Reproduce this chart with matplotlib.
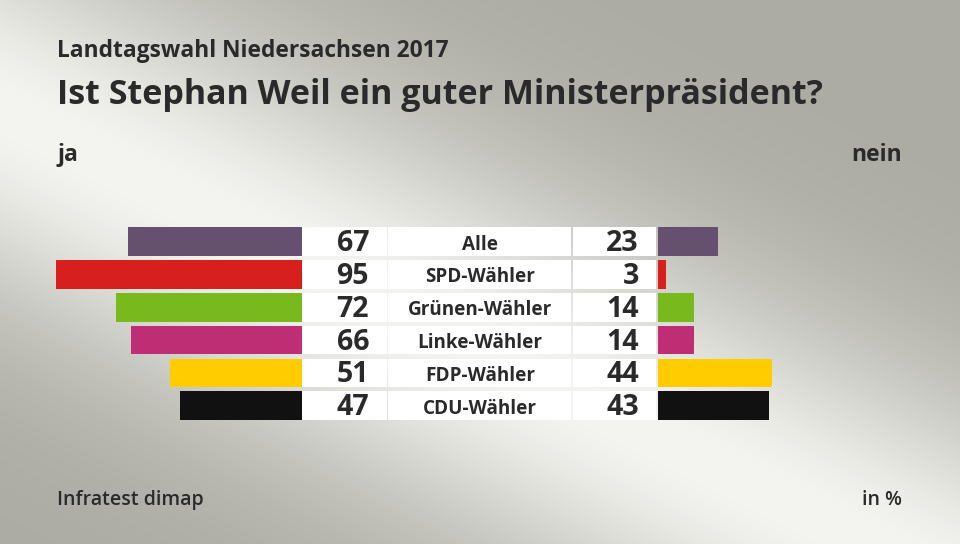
#!/usr/bin/env python3
# Umfrage-Grafik: Ist Stephan Weil ein guter Ministerpraesident? (Landtagswahl Niedersachsen 2017)

import numpy as np
from matplotlib import pyplot as plt

# --- data ---
groups = ["Alle", "SPD-Wähler", "Grünen-Wähler", "Linke-Wähler", "FDP-Wähler", "CDU-Wähler"]
ja = [67, 95, 72, 66, 51, 47]
nein = [23, 3, 14, 14, 44, 43]
groupColors = ["#66506f", "#d7201e", "#78b91e", "#be2e75", "#ffcc00", "#111111"]

# --- layout (pixel space, 960x544) ---
W, H = 960, 544
pxPerPct = 2.59
jaEdge = 302        # ja bars grow leftwards from here
neinEdge = 658      # nein bars grow rightwards from here
rowTop = 241.7
rowStep = 32.8
barH = 28.6
textColor = "#2a2a2a"
fontFam = ["Open Sans", "DejaVu Sans"]

fig = plt.figure(figsize=(W / 100, H / 100), dpi=100)
ax = fig.add_axes([0, 0, 1, 1])
ax.set_xlim(0, W)
ax.set_ylim(H, 0)
ax.axis("off")

# background: light diagonal band on grey
xx, yy = np.meshgrid(np.arange(W), np.arange(H))
d = (yy - (110 + 0.5 * xx)) / np.sqrt(1 + 0.25)
t = np.exp(-(d / 175.0) ** 2)[..., None]
dark = np.array([172, 172, 164]) / 255
light = np.array([244, 244, 240]) / 255
bg = dark + (light - dark) * t
ax.imshow(bg, extent=[0, W, H, 0], aspect="auto", zorder=0)

rows = [rowTop + i * rowStep for i in range(len(groups))]

# white boxes behind numbers and labels
for left, width in [(jaEdge, 85), (388, 183), (573, 83)]:
    ax.barh(rows, [width] * len(rows), left=left, height=barH, color="white", zorder=1)

# bars
jaW = [v * pxPerPct for v in ja]
neinW = [v * pxPerPct for v in nein]
ax.barh(rows, jaW, left=[jaEdge - w for w in jaW], height=barH, color=groupColors, zorder=2)
ax.barh(rows, neinW, left=neinEdge, height=barH, color=groupColors, zorder=2)

# numbers and group labels, placed on the baseline
for y, g, a, n in zip(rows, groups, ja, nein):
    ax.text(369, y + 9.5, str(a), ha="right", va="baseline", fontsize=20.5, fontweight="bold",
            color=textColor, family=fontFam, zorder=3)
    ax.text(639, y + 9.5, str(n), ha="right", va="baseline", fontsize=20.5, fontweight="bold",
            color=textColor, family=fontFam, zorder=3)
    ax.text(480, y + 8, g, ha="center", va="baseline", fontsize=13.6, fontweight="bold",
            color=textColor, family=fontFam, zorder=3)

# titles and annotations
ax.text(57, 57, "Landtagswahl Niedersachsen 2017", ha="left", va="baseline", fontsize=16.4,
        fontweight="bold", color=textColor, family=fontFam)
ax.text(57, 104, "Ist Stephan Weil ein guter Ministerpräsident?", ha="left", va="baseline",
        fontsize=24.5, fontweight="bold", color=textColor, family=fontFam)
ax.text(57, 161, "ja", ha="left", va="baseline", fontsize=16.5, fontweight="bold",
        color=textColor, family=fontFam)
ax.text(902, 161, "nein", ha="right", va="baseline", fontsize=16.5, fontweight="bold",
        color=textColor, family=fontFam)
ax.text(57, 505, "Infratest dimap", ha="left", va="baseline", fontsize=14, fontweight="semibold",
        color=textColor, family=fontFam)
ax.text(902, 505, "in %", ha="right", va="baseline", fontsize=14, fontweight="semibold",
        color=textColor, family=fontFam)

fig.savefig("out.png", dpi=100)
plt.close(fig)
